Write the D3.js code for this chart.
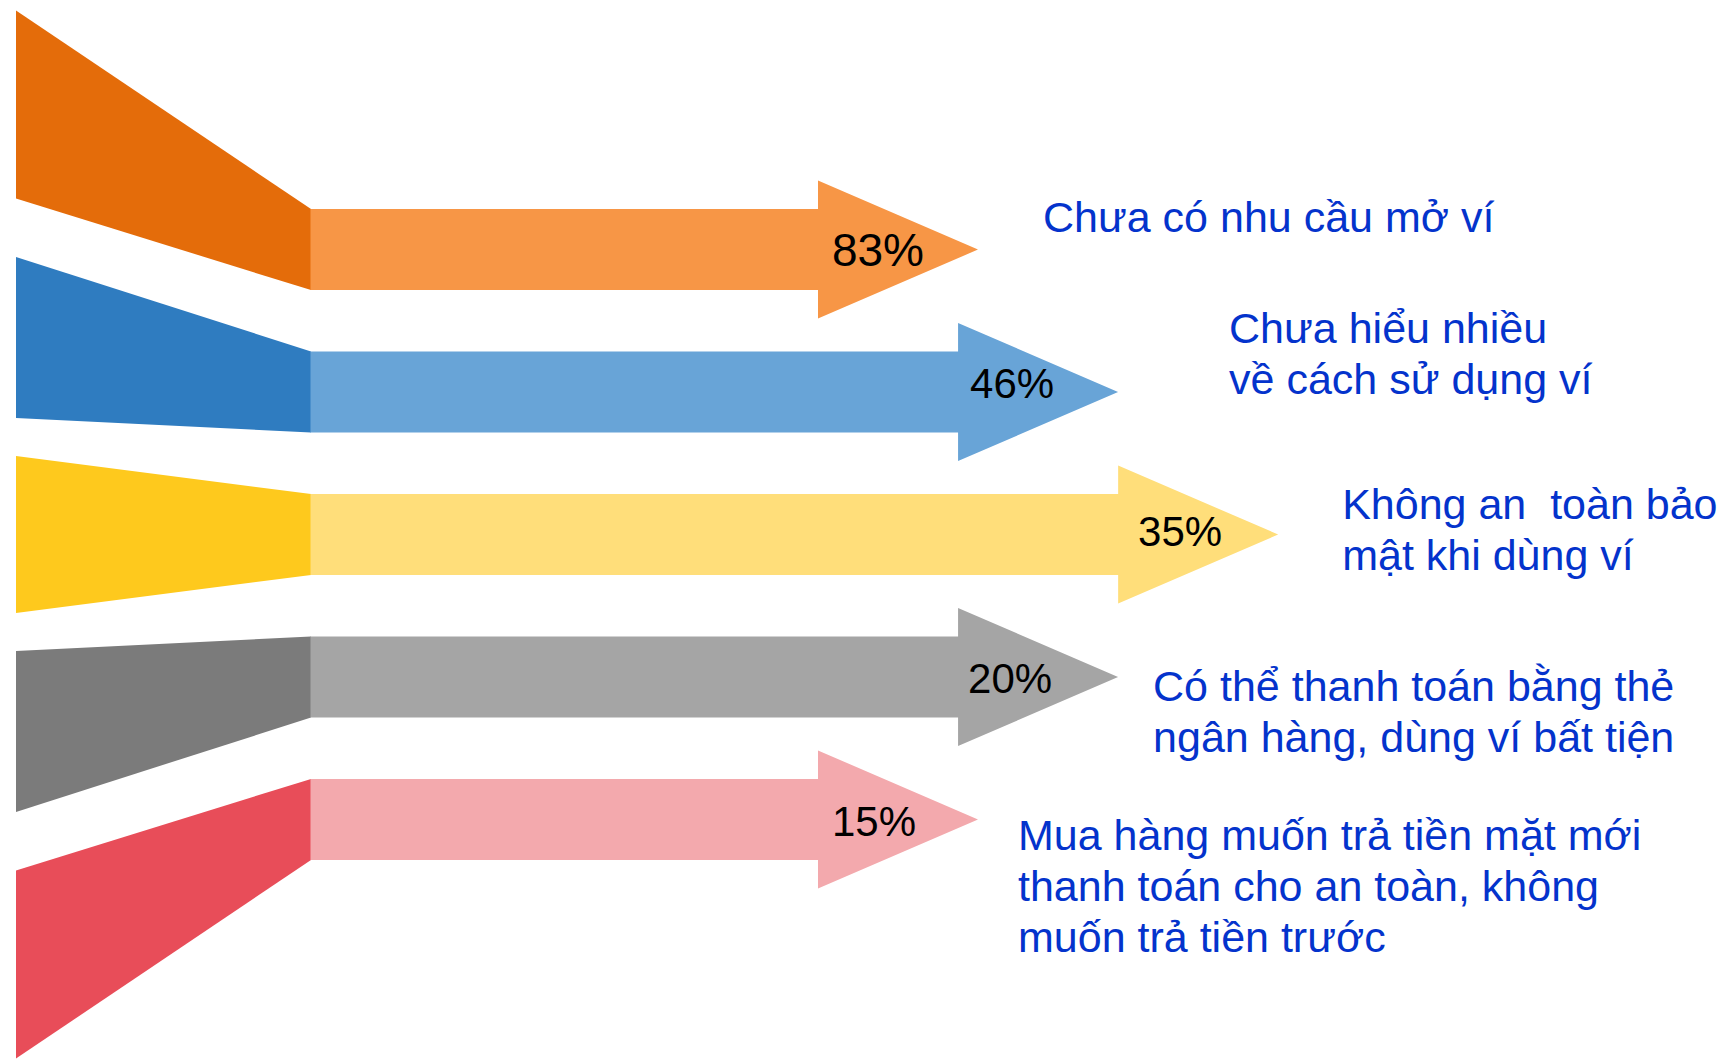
<!DOCTYPE html>
<html>
<head>
<meta charset="utf-8">
<script src="https://cdn.jsdelivr.net/npm/d3@7"></script>
<style>
  body { margin: 0; background: #fff; }
  svg { display: block; }
  text { font-family: "Liberation Sans", Arial, sans-serif; }
</style>
</head>
<body>
<script>
// data
const values = [83, 46, 35, 20, 15];
const labels = [
  ["Chưa có nhu cầu mở ví"],
  ["Chưa hiểu nhiều", "về cách sử dụng ví"],
  ["Không an  toàn bảo", "mật khi dùng ví"],
  ["Có thể thanh toán bằng thẻ", "ngân hàng, dùng ví bất tiện"],
  ["Mua hàng muốn trả tiền mặt mới", "thanh toán cho an toàn, không", "muốn trả tiền trước"]
];
// relative reach of each arrow (decorative, first arrow = 1)
const arrowSpan = [1, 1.21, 1.45, 1.21, 1];
const darkColors = ["#E46C0A", "#2F7CC0", "#FEC91D", "#7B7B7B", "#E84D59"];
const lightColors = ["#F79646", "#68A4D7", "#FFDE7A", "#A5A5A5", "#F3A9AD"];

// layout for the text boxes (offset from arrow tip / bar centre)
const labelDx = [65, 111, 64, 35, 40];
const labelDy = [-18, -49, -16, 24, 31];
const pctDx = [-100, -106, -98, -108, -104];
const pctDy = [16, 6, 11, 16, 17];

const width = 1722, height = 1060;
const svg = d3.select("body").append("svg")
    .attr("width", width).attr("height", height);

const idx = d3.range(values.length);

// rows
const y = d3.scaleBand().domain(idx).range([209, 860]).paddingInner(0.431).paddingOuter(0);
// arrow reach
const x = d3.scaleLinear().domain([0, 1]).range([311, 978]);
// fan on the left: spread of centres and heights by distance from middle row
const mid = (values.length - 1) / 2;
const fanSpread = d3.scalePow().exponent(1.126).domain([0, 2]).range([0, 430]);
const fanHeight = d3.scalePow().exponent(3).domain([0, 2]).range([157, 188]);
const fanX = 16;
const headLen = 160, headHalf = 69;

const rows = idx.map(i => {
  const top = y(i), bot = y(i) + y.bandwidth(), cy = top + y.bandwidth() / 2;
  const k = i - mid;
  const lc = y(mid) + y.bandwidth() / 2 + Math.sign(k) * fanSpread(Math.abs(k));
  const lh = fanHeight(Math.abs(k));
  const tip = x(arrowSpan[i]);
  return {i, top, bot, cy, lc, lh, tip, base: tip - headLen};
});

const g = svg.append("g");

// left fan pieces
g.selectAll("path.fan").data(rows).join("path")
  .attr("class", "fan")
  .attr("fill", d => darkColors[d.i])
  .attr("d", d => {
    const p = d3.path();
    p.moveTo(fanX, d.lc - d.lh / 2);
    p.lineTo(x(0), d.top);
    p.lineTo(x(0), d.bot);
    p.lineTo(fanX, d.lc + d.lh / 2);
    p.closePath();
    return p.toString();
  });

// arrows
g.selectAll("path.arrow").data(rows).join("path")
  .attr("class", "arrow")
  .attr("fill", d => lightColors[d.i])
  .attr("d", d => {
    const p = d3.path();
    p.moveTo(x(0) - 0.5, d.top);
    p.lineTo(d.base, d.top);
    p.lineTo(d.base, d.cy - headHalf);
    p.lineTo(d.tip, d.cy);
    p.lineTo(d.base, d.cy + headHalf);
    p.lineTo(d.base, d.bot);
    p.lineTo(x(0) - 0.5, d.bot);
    p.closePath();
    return p.toString();
  });

// percentages
g.selectAll("text.pct").data(rows).join("text")
  .attr("class", "pct")
  .attr("x", d => d.tip + pctDx[d.i])
  .attr("y", d => d.cy + pctDy[d.i])
  .attr("text-anchor", "middle")
  .attr("font-size", d => d.i === 0 ? 46 : 42)
  .attr("fill", "#000")
  .text(d => values[d.i] + "%");

// category labels
const lab = g.selectAll("text.lab").data(rows).join("text")
  .attr("class", "lab")
  .attr("font-size", 43)
  .attr("fill", "#0433CC")
  .style("white-space", "pre")
  .attr("transform", d => `translate(${d.tip + labelDx[d.i]},${d.cy + labelDy[d.i]})`);

lab.selectAll("tspan").data(d => labels[d.i]).join("tspan")
  .attr("x", 0)
  .attr("y", (t, j) => j * 51)
  .text(t => t);
</script>
</body>
</html>
